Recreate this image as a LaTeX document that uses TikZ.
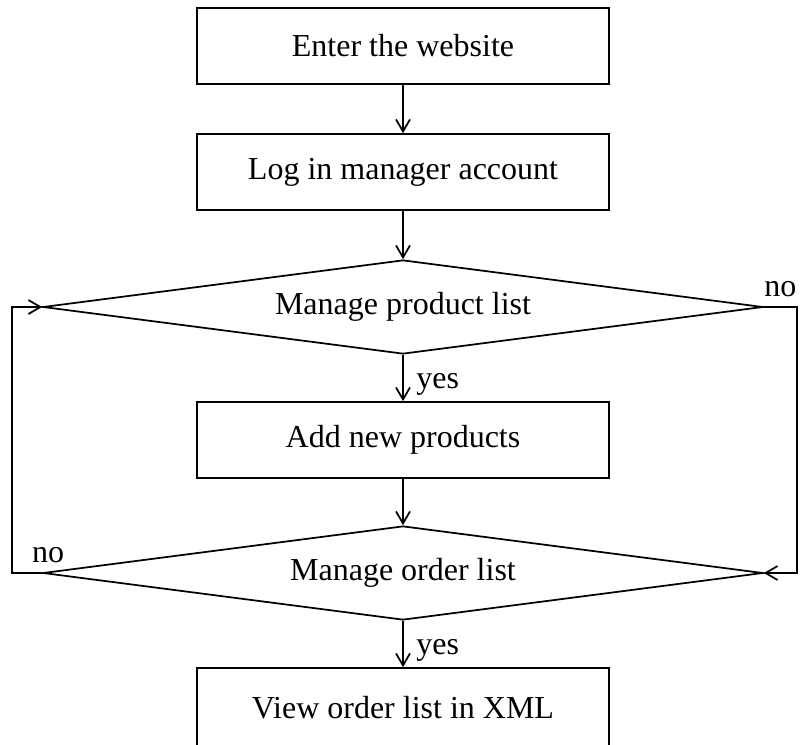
\documentclass[tikz,border=0pt]{standalone}
\usepackage{fontspec}
\setmainfont{Liberation Serif}
\usetikzlibrary{arrows.meta,positioning,shapes.geometric}

\begin{document}
\begin{tikzpicture}[x=0.75pt,y=-0.75pt,
  font=\fontsize{24}{28}\selectfont,
  every path/.style={line width=1.3pt},
  stepbox/.style={draw,rectangle,minimum width=309pt,minimum height=57pt,inner sep=0pt},
  choice/.style={draw,diamond,aspect=8,minimum width=540pt,minimum height=70.5pt,inner sep=0pt},
  flow/.style={-{Straight Barb[length=9pt,width=10.5pt]}},
  answer/.style={right,xshift=6pt,yshift=-5pt}]
\useasboundingbox (0,0) rectangle (800,744);
\node[stepbox] (enter) at (403,46) {Enter the website};
\node[stepbox] (login) at (403,172) {Log in manager account};
\node[choice] (prodlist) at (403,307) {Manage product list};
\node[stepbox] (addprod) at (403,440) {Add new products};
\node[choice] (orderlist) at (403,573) {Manage order list};
\node[stepbox,minimum height=60pt] (viewxml) at (403,708) {View order list in XML};
\coordinate (rightturn) at (797,307);
\coordinate (leftturn) at (12,573);
\draw[flow] (enter) -- (login);
\draw[flow] (login) -- (prodlist);
\draw[flow] (prodlist) -- node[answer]{yes} (addprod);
\draw[flow] (addprod) -- (orderlist);
\draw[flow] (orderlist) -- node[answer]{yes} (viewxml);
\draw[flow] (prodlist.east) -- node[above,yshift=4pt]{no} (rightturn) |- (orderlist.east);
\draw[flow] (orderlist.west) node[above,xshift=4.5pt,yshift=4pt]{no} -- (leftturn) |- (prodlist.west);
\end{tikzpicture}
\end{document}
